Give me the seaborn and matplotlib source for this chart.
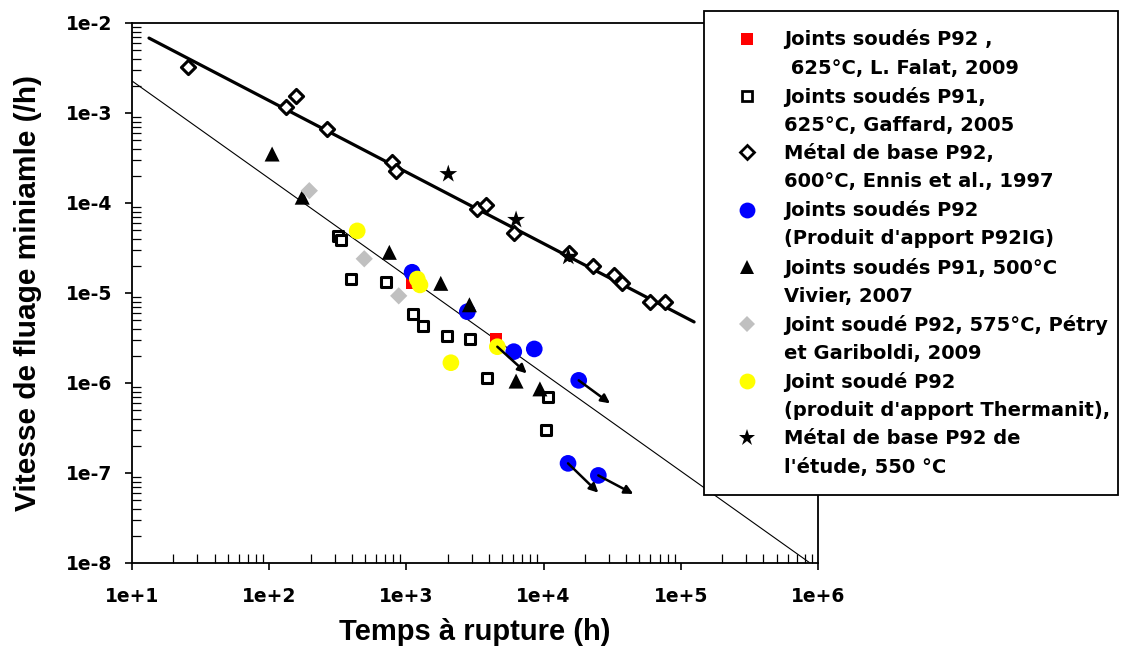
import matplotlib.pyplot as plt
import seaborn as sns
import numpy as np
from matplotlib.lines import Line2D
from matplotlib.ticker import LogLocator, FuncFormatter, NullFormatter

# --- data (time to rupture in h, min. creep rate in 1/h) ---
# Joints soudés P92, 625°C, L. Falat 2009
falat_t = [1100, 4480]
falat_v = [1.3e-5, 3.1e-6]
# Joints soudés P91, 625°C, Gaffard 2005
gaffard_t = [315, 332, 394, 714, 1120, 1320, 1980, 2920, 3870, 10800, 10350]
gaffard_v = [4.3e-5, 3.9e-5, 1.42e-5, 1.34e-5, 5.85e-6, 4.3e-6, 3.36e-6, 3.1e-6, 1.13e-6, 7.05e-7, 3.0e-7]
# Métal de base P92, 600°C, Ennis 1997
ennis_t = [25.7, 132, 157, 262, 781, 840, 3290, 3790, 6090, 15390, 23000, 32700, 37500, 60000, 77100]
ennis_v = [3.27e-3, 1.16e-3, 1.55e-3, 6.7e-4, 2.86e-4, 2.29e-4, 8.6e-5, 9.6e-5, 4.7e-5,
           2.76e-5, 2.0e-5, 1.6e-5, 1.3e-5, 7.9e-6, 8.0e-6]
# Joints soudés P92 (P92IG)
p92ig_t = [1100, 2780, 6060, 8550, 18030, 15070, 25060]
p92ig_v = [1.7e-5, 6.2e-6, 2.23e-6, 2.39e-6, 1.07e-6, 1.28e-7, 9.4e-8]
# Joints soudés P91, 500°C, Vivier 2007
vivier_t = [105, 174, 751, 1780, 2880, 6300, 9400]
vivier_v = [3.5e-4, 1.16e-4, 2.83e-5, 1.28e-5, 7.4e-6, 1.05e-6, 8.6e-7]
# Joint soudé P92, 575°C, Pétry et Gariboldi 2009
petry_t = [196, 493, 879]
petry_v = [1.37e-4, 2.4e-5, 9.3e-6]
# Joint soudé P92 (Thermanit)
thermanit_t = [438, 1200, 1256, 2110, 4600]
thermanit_v = [4.9e-5, 1.43e-5, 1.23e-5, 1.68e-6, 2.53e-6]
# Métal de base P92 de l'étude, 550 °C
etude_t = [2020, 6300, 15140]
etude_v = [2.1e-4, 6.5e-5, 2.53e-5]

# fit lines (two end points, power law)
fit_base_t = [13.3, 1.25e5]
fit_base_v = [6.8e-3, 4.77e-6]
fit_joint_t = [10, 8.75e5]
fit_joint_v = [2.27e-3, 1e-8]

# arrows on unbroken specimens
arrow_t0 = [4600, 18030, 15070, 25060]
arrow_v0 = [2.53e-6, 1.07e-6, 1.28e-7, 9.4e-8]
arrow_t1 = [7535, 30480, 25060, 45080]
arrow_v1 = [1.28e-6, 5.94e-7, 6.04e-8, 5.85e-8]

labels = [
    ("Joints soudés P92 ,", " 625°C, L. Falat, 2009"),
    ("Joints soudés P91,", "625°C, Gaffard, 2005"),
    ("Métal de base P92,", "600°C, Ennis et al., 1997"),
    ("Joints soudés P92", "(Produit d'apport P92IG)"),
    ("Joints soudés P91, 500°C", "Vivier, 2007"),
    ("Joint soudé P92, 575°C, Pétry", "et Gariboldi, 2009"),
    ("Joint soudé P92", "(produit d'apport Thermanit),"),
    ("Métal de base P92 de", "l'étude, 550 °C"),
]

sns.set_style("white")
plt.rcParams['font.family'] = ['DejaVu Sans']
plt.rcParams.update({'text.color': 'black', 'axes.labelcolor': 'black',
                     'xtick.color': 'black', 'ytick.color': 'black'})

fig = plt.figure(figsize=(11.22, 6.5), dpi=100)
ax = fig.add_axes([132 / 1122, 87 / 650, 686 / 1122, 540 / 650])
ax.set_xscale('log')
ax.set_yscale('log')

# fit lines
sns.lineplot(x=fit_base_t, y=fit_base_v, color='black', lw=2.3, ax=ax, zorder=2)
sns.lineplot(x=fit_joint_t, y=fit_joint_v, color='black', lw=0.8, ax=ax, zorder=2)

# marker styles: (marker, size pt, face, edge, edge width)
styles = [
    ('s', 8.8, 'red', 'none', 0),
    ('s', 7.0, 'white', 'black', 2.2),
    ('D', 7.2, 'white', 'black', 2.2),
    ('o', 12.0, 'blue', 'none', 0),
    ('^', 10.8, 'black', 'none', 0),
    ('D', 8.8, '#c0c0c0', 'none', 0),
    ('o', 12.0, 'yellow', 'none', 0),
    ('*', 13.5, 'black', 'none', 0),
]
series = [(falat_t, falat_v), (gaffard_t, gaffard_v), (ennis_t, ennis_v),
          (p92ig_t, p92ig_v), (vivier_t, vivier_v), (petry_t, petry_v),
          (thermanit_t, thermanit_v), (etude_t, etude_v)]

handles, texts = [], []
for i, ((t, v), (mk, ms, fc, ec, mew)) in enumerate(zip(series, styles)):
    sns.scatterplot(x=t, y=v, marker=mk, s=ms ** 2, color=fc, edgecolor=ec,
                    linewidth=mew, ax=ax, zorder=3 + i, legend=False)
    handles.append(Line2D([], [], ls='none', marker=mk, ms=ms * 0.95, mfc=fc,
                          mec=ec if ec != 'none' else fc, mew=mew * 0.9))
    handles.append(Line2D([], [], ls='none', marker='None'))
    texts += list(labels[i])

for t0, v0, t1, v1 in zip(arrow_t0, arrow_v0, arrow_t1, arrow_v1):
    ax.annotate("", xy=(t1, v1), xytext=(t0, v0),
                arrowprops=dict(arrowstyle='-|>', color='black', lw=1.8,
                                mutation_scale=13, shrinkA=0, shrinkB=0),
                zorder=12)

ax.set_xlim(10, 1e6)
ax.set_ylim(1e-8, 1e-2)
ax.xaxis.set_major_locator(LogLocator(base=10, numticks=10))
ax.yaxis.set_major_locator(LogLocator(base=10, numticks=10))
ax.xaxis.set_minor_locator(LogLocator(base=10, subs=np.arange(2, 10), numticks=20))
ax.yaxis.set_minor_locator(LogLocator(base=10, subs=np.arange(2, 10), numticks=20))
fmt = FuncFormatter(lambda v, p: f"1e{int(round(np.log10(v))):+d}")
ax.xaxis.set_major_formatter(fmt)
ax.yaxis.set_major_formatter(fmt)
ax.xaxis.set_minor_formatter(NullFormatter())
ax.yaxis.set_minor_formatter(NullFormatter())
ax.tick_params(which='major', direction='out', length=5, width=1.2, color='black',
               labelcolor='black', labelsize=13.5, bottom=True, left=True)
ax.tick_params(which='minor', direction='in', length=6.2, width=0.9, color='black',
               bottom=True, left=True)
ax.tick_params(axis='x', which='major', pad=12)
ax.tick_params(axis='y', which='major', pad=9)
for lab in ax.get_xticklabels() + ax.get_yticklabels():
    lab.set_fontweight('bold')
for sp in ax.spines.values():
    sp.set_color('black')
    sp.set_linewidth(1.3)

ax.set_xlabel("Temps à rupture (h)", family='Liberation Sans', weight='bold',
              fontsize=21, labelpad=9, color='black')
ax.set_ylabel("Vitesse de fluage miniamle (/h)", family='Liberation Sans',
              weight='bold', fontsize=21.5, labelpad=17, color='black')

leg = fig.legend(handles, texts, loc='upper left',
                 bbox_to_anchor=(704 / 1122, 0, 414 / 1122, 1 - 11 / 650),
                 bbox_transform=fig.transFigure, mode='expand', borderaxespad=0,
                 frameon=True, fancybox=False, edgecolor='black', framealpha=1,
                 prop=dict(family='DejaVu Sans', weight='bold', size=14),
                 borderpad=0.95, labelspacing=0.47, handlelength=2.5,
                 handletextpad=0.68)
leg.get_frame().set_linewidth(1.3)
for txt in leg.get_texts():
    txt.set_color('black')

fig.savefig('out.png', dpi=100)
